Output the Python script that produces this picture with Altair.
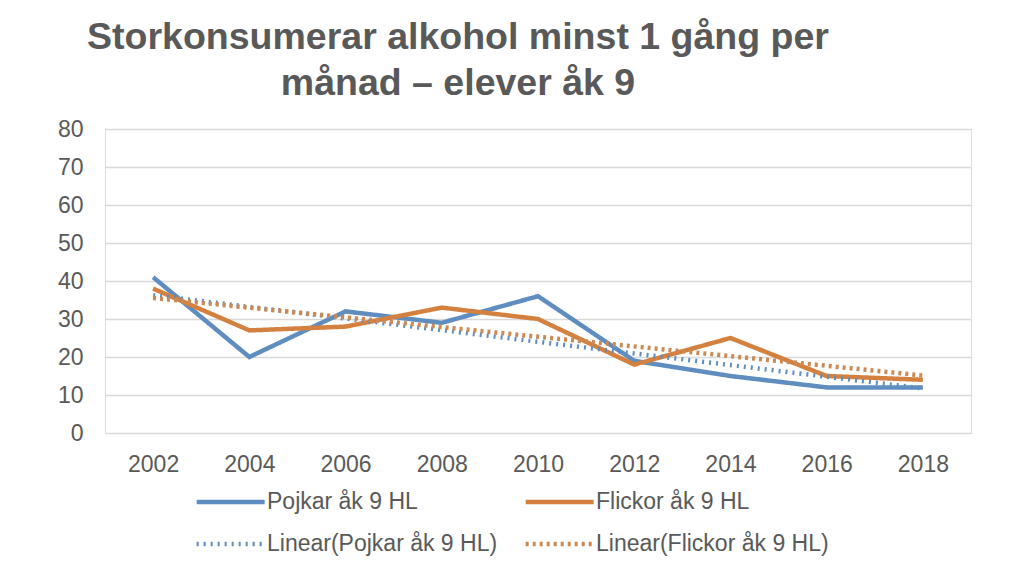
import altair as alt
import pandas as pd

years = [2002, 2004, 2006, 2008, 2010, 2012, 2014, 2016, 2018]
pojkar = [41, 20, 32, 29, 36, 19, 15, 12, 12]
flickor = [38, 27, 28, 33, 30, 18, 25, 15, 14]

series_names = ["Pojkar åk 9 HL", "Flickor åk 9 HL",
                "Linear(Pojkar åk 9 HL)", "Linear(Flickor åk 9 HL)"]
colors = ["#5f8dbf", "#d4803f", "#5f8dbf", "#c98a55"]
dashes = [[1, 0], [1, 0], [2, 5], [3, 4]]
widths = [4.5, 4.5, 2, 2]

df = pd.DataFrame({
    "year": years * 2,
    "value": pojkar + flickor,
    "series": [series_names[0]] * len(years) + [series_names[1]] * len(years),
})

legend = alt.Legend(
    title=None, orient="none", legendX=89, legendY=359, columns=2,
    direction="horizontal",
    symbolType="M-1,0H5", symbolSize=514,
    labelFont="Liberation Sans", labelFontSize=23, labelColor="#595959",
    labelLimit=400, columnPadding=18, rowPadding=16, labelOffset=45,
    symbolOffset=0, symbolLimit=0,
)

color = alt.Color("series:N", scale=alt.Scale(domain=series_names, range=colors), legend=legend)
dash = alt.StrokeDash("series:N", scale=alt.Scale(domain=series_names, range=dashes), legend=legend)
sw = alt.StrokeWidth("series:N", scale=alt.Scale(domain=series_names, range=widths), legend=legend)

x = alt.X("year:Q", scale=alt.Scale(domain=[2001, 2019], nice=False),
          axis=alt.Axis(values=years, format="d", title=None, grid=False, domain=False,
                        ticks=False, labelFont="Liberation Sans", labelFontSize=23,
                        labelColor="#595959", labelPadding=20))
y = alt.Y("value:Q", scale=alt.Scale(domain=[0, 80], nice=False),
          axis=alt.Axis(values=list(range(0, 81, 10)), title=None, grid=True,
                        gridColor="#d9d9d9", gridWidth=1.5, domain=False, ticks=False,
                        labelFont="Liberation Sans", labelFontSize=23,
                        labelColor="#595959", labelPadding=22))

base = alt.Chart(df)

trend = base.transform_regression("year", "value", groupby=["series"]).transform_calculate(
    series='"Linear(" + datum.series + ")"'
).mark_line().encode(x=x, y=y, color=color, strokeDash=dash, strokeWidth=sw)

lines = base.mark_line(strokeJoin="miter").encode(
    x=x, y=y, color=color, strokeDash=dash, strokeWidth=sw)

chart = alt.layer(lines, trend).properties(
    width=866, height=304,
    padding={"left": 97, "top": 121, "right": 40, "bottom": 140},
    autosize=alt.AutoSizeParams(type="none"),
    title=alt.TitleParams(
        text=["Storkonsumerar alkohol minst 1 gång per", "månad – elever åk 9"],
        font="Liberation Sans", fontSize=37.5, fontWeight="bold", color="#595959",
        lineHeight=46, anchor="middle", dx=-80, offset=16,
    ),
).configure_view(stroke=None).configure(background="white")

chart.save("out.html", embed_options={"renderer": "svg", "actions": False})
